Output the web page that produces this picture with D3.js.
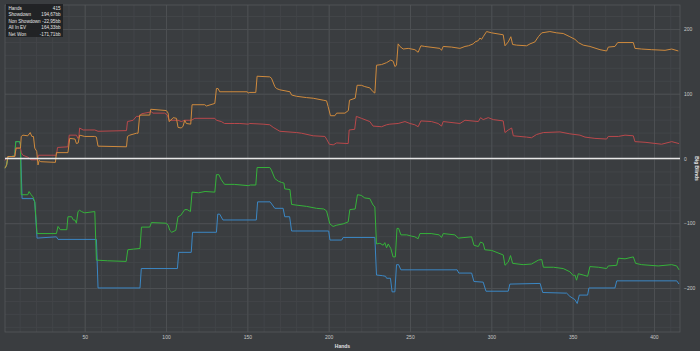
<!DOCTYPE html>
<html>
<head>
<meta charset="utf-8">
<script src="https://cdn.jsdelivr.net/npm/d3@7"></script>
<style>
  body { margin: 0; background: #3a3d40; }
  text { font-family: "Liberation Sans", Arial, sans-serif; }
</style>
</head>
<body>
<svg id="chart" width="700" height="351"></svg>
<script>
// axis ticks
const xTicks = [50, 100, 150, 200, 250, 300, 350, 400];
const yTicks = [-200, -100, 0, 100, 200];

// summary box
const legendLabels = ["Hands", "Showdown", "Non Showdown", "All In EV", "Net Won"];
const legendValues = ["415", "194,67bb", "-22,95bb", "164,33bb", "-171,71bb"];

// [hand, big blinds]
const allInEV = [[1,-15],[2,-10],[2.8,3],[7,3],[7.8,16],[10.5,16],[11,34],[12,36],[15,35],[16.5,40],[17.5,34],[18.5,34],[19.3,16],[20.5,11],[21.3,-10],[22,-3],[23,-5],[32,-6],[32.6,9],[39.7,9],[40.8,31],[44,30],[44.9,23],[46,24],[46.9,36],[50,34],[56.2,34],[57.2,33],[58.2,19],[75.7,18],[76.3,34],[77.7,36],[81.8,39],[82.8,39],[83.8,67],[90,67],[90.6,76],[100.2,74],[101.3,70],[101.9,57],[102.9,59],[104.4,63],[106.4,62],[107.4,48],[109.4,47],[110.5,50],[111.5,59],[112.5,54],[115.2,53],[116,83],[123.8,83],[124.8,81],[130,85],[131,108],[132,108],[133,103],[150,103],[150.5,101],[151.5,102],[155.2,102],[156,127],[163.8,126],[164.8,124],[166.9,111],[167.9,108],[170,106],[176.2,103],[177.2,98],[180.3,96],[186.4,94],[190.5,93],[196.6,90],[198.7,89],[199.7,80],[201.1,66],[203.8,66],[204.9,70],[210,70],[212.1,74],[212.8,90],[216.3,93],[217.5,113],[220.1,113],[222.2,111],[225.3,109],[227.3,103],[228.4,101],[229.4,144],[232.5,145],[235.6,148],[238.2,152],[239.7,150],[240.7,142],[241.7,144],[242.7,177],[243.8,173],[245.8,169],[248.9,170],[253,168],[255,164],[256.7,174],[259.1,173],[268.4,170],[269.4,167],[270.4,173],[275.6,172],[280.7,170],[283.8,173],[285.9,174],[288.9,177],[290,180],[292,182],[293,186],[294,184],[295,188],[297.1,196],[300.2,194],[307.3,191],[308.4,174],[310.4,180],[312,188],[313.1,176],[315.6,175],[321.7,174],[323.8,177],[326.8,180],[328.9,188],[331,194],[336,196],[340.2,194],[344.2,193],[348.3,188],[351.4,184],[353.5,179],[356.5,175],[360.6,173],[366.8,168],[370.9,166],[371.9,172],[376,173],[377.7,179],[387.3,179],[388.3,170],[392.4,169],[398.6,168],[406.8,167],[410.9,169],[415,166]];

const nonShowdown = [[1,-3],[2.8,3],[7,3],[7.8,16],[10.5,16],[11,9],[12,5],[15,2],[17,-2],[21,-2],[21.5,5],[32.6,5],[33.3,17],[39.7,18],[40.5,36],[44.9,36],[45.9,31],[46.4,33],[46.9,47],[49,44],[56.2,44],[58.2,42],[75.7,43],[76.3,57],[79.8,59],[81.8,65],[83.8,65],[84.9,69],[91,72],[92,70],[99.2,70],[100.8,67],[101.9,59],[107.4,59],[109.4,57],[111.5,59],[115.6,59],[117.7,62],[130,62],[131,59],[134,57],[136,54],[142.3,54],[145.4,54],[150.5,53],[151.5,54],[159.7,53],[163.8,52],[165.9,48],[170,42],[180.3,40],[183.3,39],[190.5,35],[197.7,34],[198.7,30],[200.4,22],[202.8,21],[204.9,24],[212,23],[212.6,44],[216,45],[217,65],[220.1,62],[225.3,57],[227.3,50],[232.5,49],[235.6,52],[237.6,53],[242.7,54],[246.9,57],[250,54],[253,52],[255,49],[256.7,58],[263.2,57],[267.3,54],[269.4,50],[270.4,57],[280.7,54],[283.8,59],[292,57],[293.4,63],[295,60],[298.1,63],[301.2,60],[307.3,58],[308.4,40],[310.4,44],[312.5,47],[313.5,35],[321.7,33],[324.7,32],[327.8,37],[332,40],[342.2,41],[348.3,38],[354.5,36],[357.6,33],[363.7,31],[370.9,30],[371.9,34],[378.1,34],[382.2,36],[387.3,35],[388.3,26],[394.5,25],[404.7,22],[410.9,26],[415.4,23]];

const showdown = [[1,-15],[2,-10],[2.8,3],[5,3],[7,4],[7.6,26],[10,26],[10.5,21],[11.5,-62],[18.2,-62],[19.3,-67],[20.7,-123],[32.6,-121],[33.6,-125],[57.2,-125],[58.2,-200],[84,-200],[84.8,-170],[107,-170],[107.8,-145],[115.5,-145],[116.3,-114],[131,-114],[131.8,-86],[133,-86],[135,-95],[155.5,-95],[156.3,-67],[164,-67],[166.9,-77],[172,-77],[173,-90],[176,-90],[177.2,-112],[200,-112],[200.8,-126],[208,-126],[208.9,-122],[228.4,-122],[229.4,-180],[233,-181],[235,-182],[235.6,-185],[238,-185],[239,-206],[240.7,-206],[241.7,-164],[243,-164],[244.4,-172],[279,-172],[280,-177],[287.9,-177],[289.3,-190],[295,-191],[296.7,-205],[310.4,-205],[311.4,-194],[330,-193],[331.6,-207],[346.3,-208],[348.3,-213],[351.4,-218],[352.8,-224],[354.1,-211],[359.2,-211],[360,-200],[376,-200],[377.1,-189],[414,-189],[415.4,-194]];

const netWon = [[1,-15],[2,-10],[2.8,3],[5,3],[7,4],[7.6,26],[10,26],[10.5,21],[11,-56],[15,-56],[15.8,-51],[17,-56],[18.2,-59],[19.3,-67],[20.7,-116],[32.6,-116],[33.6,-105],[35,-110],[39,-110],[39.7,-90],[42,-90],[43,-95],[44,-95],[44.9,-100],[45.9,-82],[46.9,-80],[48,-82],[50,-84],[56.2,-82],[57.2,-157],[64,-158],[75.5,-159],[76.5,-141],[80,-140],[84,-139],[84.9,-106],[90,-106],[91,-99],[100,-100],[101.3,-103],[102.3,-111],[103.5,-114],[106,-111],[107.4,-90],[109,-88],[111.5,-79],[113,-79],[115,-82],[116,-52],[120,-53],[124,-51],[130,-52],[131,-25],[132.5,-25],[134,-33],[136,-40],[142,-40],[150.5,-42],[152,-41],[155.2,-41],[156,-14],[163.8,-14],[164.8,-18],[166.9,-31],[169,-35],[171,-37],[172.5,-38],[173,-47],[176.2,-48],[177.2,-71],[180,-72],[186.4,-74],[192.5,-77],[197,-78],[198.7,-81],[200.7,-101],[202.7,-105],[205,-103],[208.9,-101],[212,-98],[213,-79],[216.3,-78],[217.7,-56],[220,-57],[222.2,-61],[225.3,-62],[227.3,-72],[228.4,-75],[229.4,-132],[231.5,-131],[233.5,-134],[234.5,-130],[235.6,-138],[236.6,-132],[238.2,-139],[239.6,-152],[241,-152],[242,-108],[243,-108],[244.4,-118],[248,-118],[251,-120],[253,-121],[255,-124],[256.1,-116],[263,-116],[268,-118],[269.4,-122],[270.4,-116],[277.6,-118],[279.7,-123],[287.9,-121],[289.3,-134],[292,-136],[293.4,-129],[295,-131],[296,-141],[300.2,-142],[307.3,-149],[308.4,-165],[310.4,-160],[311.8,-150],[313.1,-162],[319.6,-164],[324.7,-163],[328.9,-157],[331,-156],[332,-168],[338.2,-168],[344.2,-170],[348.3,-175],[350.4,-181],[351.4,-180],[352.4,-188],[353.5,-178],[356.5,-180],[359.2,-182],[360.6,-167],[365.8,-168],[370.9,-170],[371.9,-166],[377.1,-165],[378.1,-154],[382.2,-155],[387.3,-152],[388.7,-162],[392.4,-164],[402.6,-166],[410.9,-164],[414,-166],[415.4,-172]];

var svg = d3.select("#chart");
var pLeft = 5, pRight = 680, pTop = 5, pBottom = 332;

var x = d3.scaleLinear().domain([1, 416]).range([pLeft, pRight]);
var y = d3.scaleLinear().domain([-268, 237]).range([pBottom, pTop]);

svg.append("rect")
    .attr("width", 700).attr("height", 351)
    .attr("fill", "#3a3d40");

// minor grid
svg.append("g")
    .attr("transform", "translate(0," + pBottom + ")")
    .call(d3.axisBottom(x).tickValues(d3.range(10, 416, 10)).tickSize(-(pBottom - pTop)).tickFormat(""))
    .call(g => g.select(".domain").remove())
    .selectAll("line").attr("stroke", "#424548");
svg.append("g")
    .attr("transform", "translate(" + pLeft + ",0)")
    .call(d3.axisLeft(y).tickValues(d3.range(-260, 237, 20)).tickSize(-(pRight - pLeft)).tickFormat(""))
    .call(g => g.select(".domain").remove())
    .selectAll("line").attr("stroke", "#424548");

// major grid
svg.append("g")
    .attr("transform", "translate(0," + pBottom + ")")
    .call(d3.axisBottom(x).tickValues(xTicks).tickSize(-(pBottom - pTop)).tickFormat(""))
    .call(g => g.select(".domain").remove())
    .selectAll("line").attr("stroke", "#4d5053");
svg.append("g")
    .attr("transform", "translate(" + pLeft + ",0)")
    .call(d3.axisLeft(y).tickValues(yTicks).tickSize(-(pRight - pLeft)).tickFormat(""))
    .call(g => g.select(".domain").remove())
    .selectAll("line").attr("stroke", "#4d5053");

// frame
svg.append("rect")
    .attr("x", pLeft).attr("y", pTop)
    .attr("width", pRight - pLeft).attr("height", pBottom - pTop)
    .attr("fill", "none").attr("stroke", "#55585b").attr("stroke-width", 0.8);

// tick labels
var xAxis = svg.append("g")
    .attr("transform", "translate(0," + pBottom + ")")
    .call(d3.axisBottom(x).tickValues(xTicks).tickSize(0).tickPadding(3));
xAxis.select(".domain").remove();
xAxis.selectAll("text").attr("fill", "#c8c8c8").attr("font-size", 5);

var yAxis = svg.append("g")
    .attr("transform", "translate(" + pRight + ",0)")
    .call(d3.axisRight(y).tickValues(yTicks).tickSize(0).tickPadding(4));
yAxis.select(".domain").remove();
yAxis.selectAll("text").attr("fill", "#c8c8c8").attr("font-size", 5);

svg.append("text")
    .attr("x", (pLeft + pRight) / 2).attr("y", 348)
    .attr("text-anchor", "middle")
    .attr("font-size", 5).attr("font-weight", "bold").attr("fill", "#e0e0e0")
    .text("Hands");
svg.append("text")
    .attr("transform", "translate(695," + (pTop + pBottom) / 2 + ") rotate(90)")
    .attr("text-anchor", "middle")
    .attr("font-size", 5).attr("font-weight", "bold").attr("fill", "#e0e0e0")
    .text("Big Blinds");

// lines
var line = d3.line().x(d => x(d[0])).y(d => y(d[1]));
var series = [
    { data: showdown, color: "#3b87c4" },
    { data: netWon, color: "#35b23a" },
    { data: nonShowdown, color: "#b9484b" },
    { data: allInEV, color: "#cf8a3d" }
];
series.forEach(s => {
    svg.append("path")
        .datum(s.data)
        .attr("d", line)
        .attr("fill", "none")
        .attr("stroke", s.color)
        .attr("stroke-width", 1)
        .attr("stroke-linejoin", "round");
});

// zero line
svg.append("line")
    .attr("x1", pLeft).attr("x2", pRight)
    .attr("y1", y(0)).attr("y2", y(0))
    .attr("stroke", "#e6e6e6").attr("stroke-width", 1.6);

// summary box
var box = svg.append("g").attr("transform", "translate(6,4)");
box.append("rect")
    .attr("width", 57).attr("height", 33)
    .attr("fill", "#1f2123").attr("fill-opacity", 0.92);
legendLabels.forEach((lab, i) => {
    box.append("text")
        .attr("x", 2.5).attr("y", 5.7 + i * 6.5)
        .attr("font-size", 4.6).attr("fill", "#e6e6e6")
        .text(lab);
    box.append("text")
        .attr("x", 54.5).attr("y", 5.7 + i * 6.5)
        .attr("text-anchor", "end")
        .attr("font-size", 4.6).attr("fill", "#e6e6e6")
        .text(legendValues[i]);
});
</script>
</body>
</html>
